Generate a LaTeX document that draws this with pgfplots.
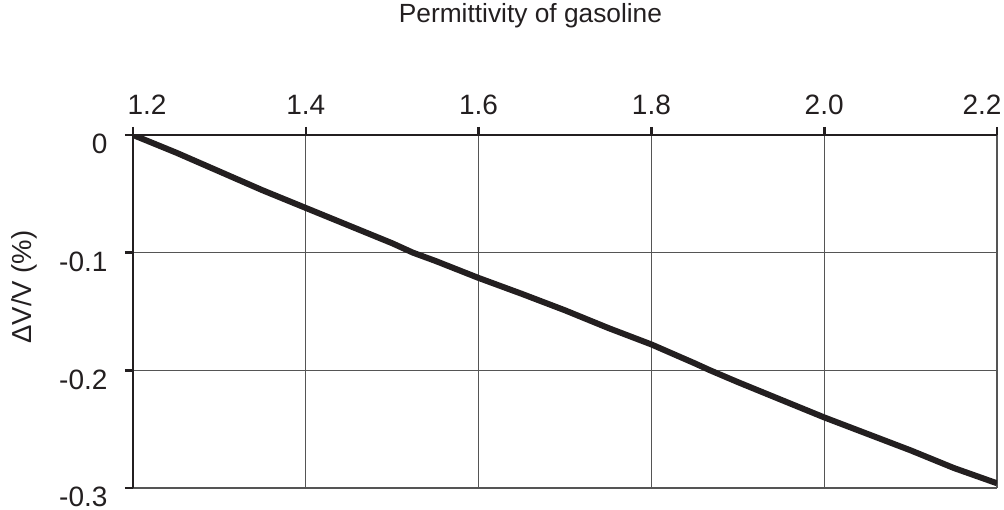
\documentclass[border=0pt]{standalone}
\usepackage{fontspec}
\setmainfont{Liberation Sans}
\usepackage{pgfplots}
\pgfplotsset{compat=1.18}
\definecolor{lineblack}{HTML}{231F20}
\definecolor{gridgray}{HTML}{555555}
\begin{document}
\begin{tikzpicture}
\useasboundingbox (-133pt,-22pt) rectangle (871pt,488pt);
\begin{axis}[
  at={(0pt,0pt)}, anchor=south west,
  scale only axis,
  width=864pt, height=353pt,
  xmin=1.2, xmax=2.2, ymin=-0.3, ymax=0,
  axis x line*=top, axis y line*=left,
  axis line style={-, line width=2.6pt, color=lineblack},
  /pgf/number format/assume math mode=true,
  xtick={1.2,1.4,1.6,1.8,2.0,2.2},
  xticklabels={\hspace*{28pt}1.2,1.4,1.6,1.8,2.0,2.2\hspace*{30pt}},
  ytick={-0.3,-0.2,-0.1,0},
  yticklabels={-0.3,-0.2,-0.1,0},
  grid=major,
  major grid style={line width=1.2pt, color=gridgray},
  tick align=outside,
  major tick length=8pt,
  every tick/.style={line width=2.6pt, color=lineblack},
  tick label style={font=\fontsize{28}{33}\selectfont, color=lineblack},
  xticklabel style={yshift=9pt},
  yticklabel style={anchor=east, text depth=0pt, inner ysep=0.5pt, yshift=-9pt, xshift=-14pt},
  title={Permittivity of gasoline},
  title style={at={(axis description cs:0.46,1.322)}, anchor=center, font=\fontsize{26.3}{31}\selectfont, color=lineblack},
  ylabel={ΔV/V (\%)},
  ylabel style={at={(axis description cs:-0.1261,0.569)}, anchor=center, rotate=0, font=\fontsize{27.5}{32}\selectfont, color=lineblack},
]
\addplot[line width=6pt, color=lineblack, line join=round] coordinates {
(1.2,0) (1.25,-0.015) (1.3,-0.031) (1.35,-0.047) (1.4,-0.062)
(1.45,-0.077) (1.5,-0.092) (1.524,-0.100) (1.55,-0.107) (1.6,-0.1215)
(1.65,-0.135) (1.7,-0.149) (1.75,-0.164) (1.8,-0.178) (1.85,-0.194)
(1.868,-0.200) (1.9,-0.210) (1.95,-0.225) (2.0,-0.240) (2.05,-0.254)
(2.1,-0.268) (2.15,-0.283) (2.2,-0.296)
};
\end{axis}
\end{tikzpicture}
\end{document}
